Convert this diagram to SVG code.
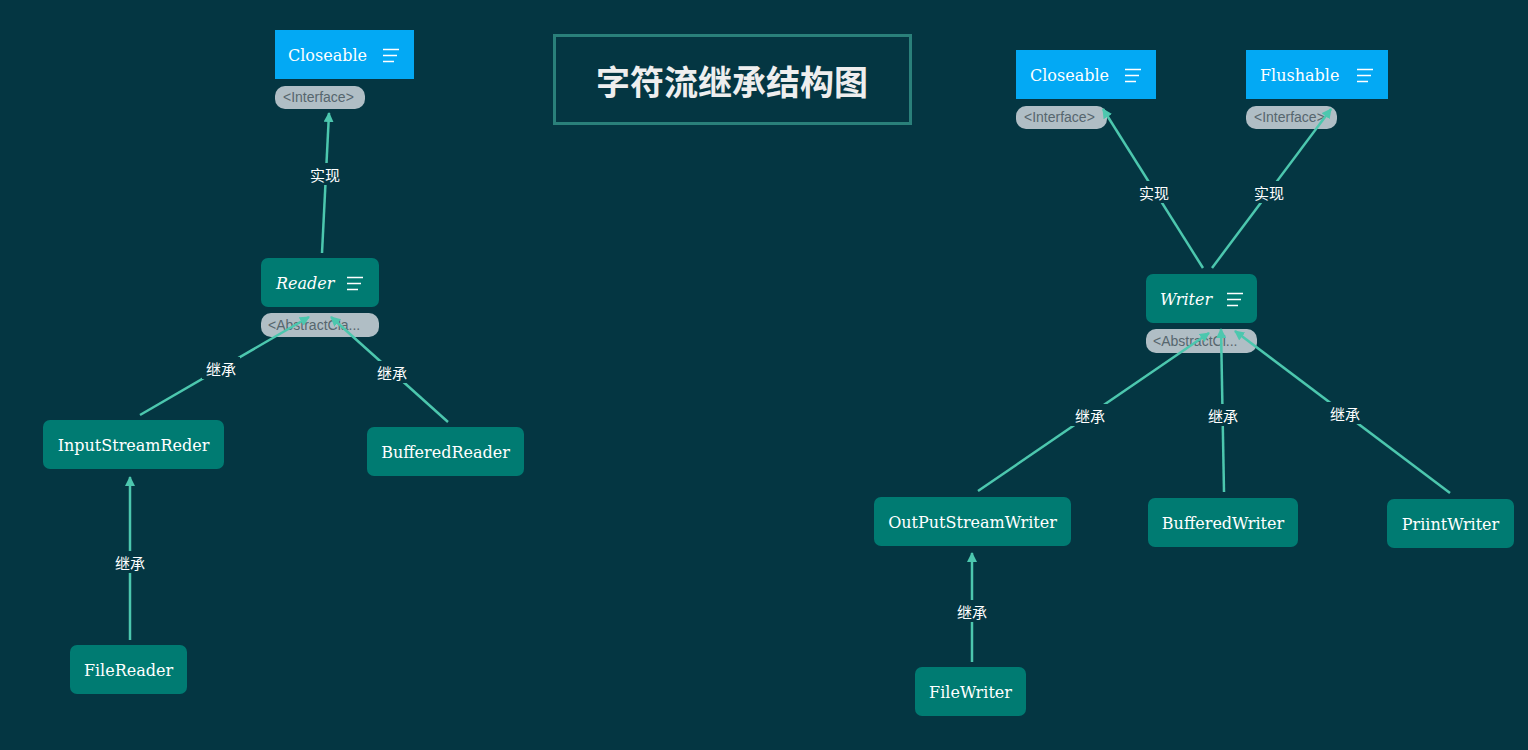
<svg xmlns="http://www.w3.org/2000/svg" width="1528" height="750" viewBox="0 0 1528 750">
<defs>
<marker id="arr" viewBox="0 0 10 10" refX="9" refY="5" markerWidth="4" markerHeight="4" orient="auto-start-reverse" markerUnits="strokeWidth">
<path d="M0,0 L10,5 L0,10 z" fill="#4cc7ae"/>
</marker>
<style>
.iface{fill:#03a9f4}
.cls{fill:#007b72}
.tag{fill:#b0bec5}
.tagt{font-family:"Liberation Sans",Arial,sans-serif;font-size:14px;fill:#56666e}
.nt{font-family:"DejaVu Serif","Liberation Serif",serif;font-size:16px;fill:#ffffff;dominant-baseline:central}
.it{font-style:italic}
.menu{stroke:#ffffff;stroke-width:1.6}
.edge{stroke:#4cc7ae;stroke-width:2.5;fill:none;marker-end:url(#arr)}
.lbg{fill:#043642}
.lt{font-family:"Noto Sans CJK SC","Liberation Sans",sans-serif;font-size:15px;fill:#ffffff;text-anchor:middle;dominant-baseline:central}
</style>
</defs>
<rect width="1528" height="750" fill="#043642"/>

<g id="title">
<rect x="554.5" y="35.5" width="356" height="88" fill="none" stroke="#2a807a" stroke-width="3"/>
<text x="732" y="80" font-family="Noto Sans CJK SC,sans-serif" font-size="34" font-weight="bold" fill="#eeeeee" text-anchor="middle" dominant-baseline="central">字符流继承结构图</text>
</g>

<g id="node-closeable-left">
<rect class="iface" x="275" y="30" width="139" height="49"/>
<text class="nt" x="288" y="55">Closeable</text>
<path class="menu" d="M383,49.5h16M383,55.5h14M383,61.5h11"/>
<rect class="tag" x="275" y="86" width="90" height="23" rx="10"/>
<text class="tagt" x="283" y="102">&lt;Interface&gt;</text>
</g>

<g id="node-reader">
<rect class="cls" x="261" y="258" width="118" height="49" rx="7"/>
<text class="nt it" x="276" y="283">Reader</text>
<path class="menu" d="M347,277.5h16M347,283.5h14M347,289.5h11"/>
<rect class="tag" x="261" y="313" width="118" height="24" rx="10"/>
<text class="tagt" x="268" y="330">&lt;AbstractCla...</text>
</g>

<g id="node-inputstreamreder">
<rect class="cls" x="43" y="420" width="181" height="49" rx="7"/>
<text class="nt" x="133.5" y="445" text-anchor="middle">InputStreamReder</text>
</g>

<g id="node-bufferedreader">
<rect class="cls" x="367" y="427" width="157" height="49" rx="7"/>
<text class="nt" x="445.5" y="452" text-anchor="middle">BufferedReader</text>
</g>

<g id="node-filereader">
<rect class="cls" x="70" y="645" width="117" height="49" rx="7"/>
<text class="nt" x="128.5" y="670" text-anchor="middle">FileReader</text>
</g>

<g id="node-closeable-right">
<rect class="iface" x="1016" y="50" width="140" height="49"/>
<text class="nt" x="1030" y="75">Closeable</text>
<path class="menu" d="M1125,69.5h16M1125,75.5h14M1125,81.5h11"/>
<rect class="tag" x="1016" y="106" width="91" height="23" rx="10"/>
<text class="tagt" x="1024" y="122">&lt;Interface&gt;</text>
</g>

<g id="node-flushable">
<rect class="iface" x="1246" y="50" width="142" height="49"/>
<text class="nt" x="1260" y="75">Flushable</text>
<path class="menu" d="M1357,69.5h16M1357,75.5h14M1357,81.5h11"/>
<rect class="tag" x="1246" y="106" width="91" height="23" rx="10"/>
<text class="tagt" x="1254" y="122">&lt;Interface&gt;</text>
</g>

<g id="node-writer">
<rect class="cls" x="1146" y="274" width="111" height="49" rx="7"/>
<text class="nt it" x="1160" y="299">Writer</text>
<path class="menu" d="M1227,293.5h16M1227,299.5h14M1227,305.5h11"/>
<rect class="tag" x="1146" y="329" width="111" height="24" rx="10"/>
<text class="tagt" x="1153" y="346">&lt;AbstractCl...</text>
</g>

<g id="node-outputstreamwriter">
<rect class="cls" x="874" y="497" width="197" height="49" rx="7"/>
<text class="nt" x="972.5" y="522" text-anchor="middle">OutPutStreamWriter</text>
</g>

<g id="node-bufferedwriter">
<rect class="cls" x="1148" y="498" width="150" height="49" rx="7"/>
<text class="nt" x="1223" y="523" text-anchor="middle">BufferedWriter</text>
</g>

<g id="node-priintwriter">
<rect class="cls" x="1387" y="499" width="127" height="49" rx="7"/>
<text class="nt" x="1450.5" y="524" text-anchor="middle">PriintWriter</text>
</g>

<g id="node-filewriter">
<rect class="cls" x="915" y="667" width="111" height="49" rx="7"/>
<text class="nt" x="970.5" y="692" text-anchor="middle">FileWriter</text>
</g>

<g id="connectors">
<line class="edge" x1="322" y1="253" x2="329" y2="113"/>
<line class="edge" x1="140" y1="415" x2="309" y2="317"/>
<line class="edge" x1="448" y1="422" x2="331" y2="317"/>
<line class="edge" x1="130" y1="640" x2="130" y2="477"/>
<line class="edge" x1="1203" y1="268" x2="1103" y2="109"/>
<line class="edge" x1="1212" y1="268" x2="1331" y2="109"/>
<line class="edge" x1="978" y1="491" x2="1209" y2="333"/>
<line class="edge" x1="1224" y1="492" x2="1221" y2="329"/>
<line class="edge" x1="1450" y1="493" x2="1235" y2="331"/>
<line class="edge" x1="972" y1="662" x2="972" y2="553"/>
<g id="edge-labels">
<rect class="lbg" x="306" y="163" width="38" height="22"/><text class="lt" x="325" y="174">实现</text>
<rect class="lbg" x="202" y="357" width="38" height="22"/><text class="lt" x="221" y="368">继承</text>
<rect class="lbg" x="373" y="361" width="38" height="22"/><text class="lt" x="392" y="372">继承</text>
<rect class="lbg" x="111" y="551" width="38" height="22"/><text class="lt" x="130" y="562">继承</text>
<rect class="lbg" x="1135" y="181" width="38" height="22"/><text class="lt" x="1154" y="192">实现</text>
<rect class="lbg" x="1250" y="181" width="38" height="22"/><text class="lt" x="1269" y="192">实现</text>
<rect class="lbg" x="1071" y="404" width="38" height="22"/><text class="lt" x="1090" y="415">继承</text>
<rect class="lbg" x="1204" y="404" width="38" height="22"/><text class="lt" x="1223" y="415">继承</text>
<rect class="lbg" x="1326" y="402" width="38" height="22"/><text class="lt" x="1345" y="413">继承</text>
<rect class="lbg" x="953" y="600" width="38" height="22"/><text class="lt" x="972" y="611">继承</text>
</g>
</g>
</svg>
